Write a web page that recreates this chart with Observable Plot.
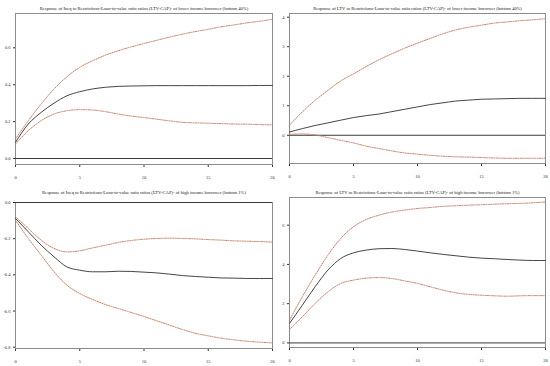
<!DOCTYPE html>
<html><head><meta charset="utf-8">
<script src="https://cdn.jsdelivr.net/npm/d3@7"></script>
<script src="https://cdn.jsdelivr.net/npm/@observablehq/plot@0.6"></script>
<style>
body{margin:0;background:#fff}
#wrap{position:relative;width:550px;height:366px;overflow:hidden;background:#fff}
#wrap svg{position:absolute}
</style>
</head><body><div id="wrap"></div>
<script>
// Horizon (periods)
const steps = [0,1,2,3,4,5,6,7,8,9,10,11,12,13,14,15,16,17,18,19,20];
const xTickValues = [0,5,10,15,20];

// Panel 1: Ineq, lower income (bottom 40%)
const ineqLowResp = [0.088,0.187,0.25,0.30,0.34,0.362,0.377,0.386,0.391,0.393,0.394,0.395,0.395,0.395,0.395,0.395,0.395,0.395,0.395,0.396,0.396];
const ineqLowUp   = [0.106,0.205,0.296,0.377,0.443,0.494,0.53,0.56,0.584,0.605,0.623,0.641,0.658,0.674,0.688,0.70,0.714,0.724,0.735,0.744,0.755];
const ineqLowLo   = [0.079,0.151,0.205,0.241,0.259,0.265,0.263,0.254,0.241,0.23,0.222,0.213,0.204,0.196,0.193,0.191,0.189,0.187,0.186,0.184,0.182];
const ineqLowTicks = [0, 0.2, 0.4, 0.6];
const ineqLowTickLabels = ["0.0","0.2","0.4","0.6"];

// Panel 2: LTV, lower income (bottom 40%)
const ltvLowResp = [0.11,0.225,0.33,0.42,0.51,0.60,0.665,0.72,0.80,0.88,0.96,1.04,1.10,1.16,1.19,1.22,1.23,1.24,1.25,1.25,1.25];
const ltvLowUp   = [0.34,0.79,1.18,1.52,1.84,2.08,2.33,2.56,2.76,2.95,3.12,3.28,3.44,3.57,3.66,3.73,3.80,3.84,3.88,3.91,3.95];
const ltvLowLo   = [0.03,0.045,0.01,-0.08,-0.17,-0.26,-0.37,-0.45,-0.53,-0.60,-0.64,-0.68,-0.71,-0.73,-0.74,-0.755,-0.77,-0.78,-0.78,-0.78,-0.78];
const ltvLowTicks = [0,1,2,3,4];
const ltvLowTickLabels = ["0","1","2","3","4"];

// Panel 3: Ineq, high income (bottom 1%)
const ineqHighResp = [-0.088,-0.162,-0.236,-0.30,-0.356,-0.374,-0.383,-0.383,-0.38,-0.381,-0.385,-0.389,-0.396,-0.404,-0.409,-0.413,-0.417,-0.418,-0.42,-0.42,-0.42];
const ineqHighUp   = [-0.079,-0.144,-0.208,-0.254,-0.273,-0.267,-0.251,-0.236,-0.221,-0.21,-0.203,-0.199,-0.197,-0.199,-0.201,-0.205,-0.208,-0.212,-0.214,-0.216,-0.219];
const ineqHighLo   = [-0.098,-0.199,-0.291,-0.383,-0.457,-0.503,-0.536,-0.564,-0.586,-0.608,-0.63,-0.654,-0.678,-0.702,-0.723,-0.737,-0.75,-0.759,-0.767,-0.772,-0.776];
const ineqHighTicks = [0,-0.2,-0.4,-0.6,-0.8];
const ineqHighTickLabels = ["0.0","-0.2","-0.4","-0.6","-0.8"];

// Panel 4: LTV, high income (bottom 1%)
const ltvHighResp = [0.99,1.92,2.86,3.71,4.30,4.59,4.73,4.80,4.81,4.76,4.68,4.59,4.51,4.44,4.37,4.32,4.29,4.25,4.22,4.20,4.20];
const ltvHighUp   = [1.16,2.35,3.45,4.47,5.32,5.92,6.29,6.51,6.67,6.77,6.85,6.90,6.96,6.99,7.02,7.04,7.07,7.09,7.11,7.14,7.18];
const ltvHighLo   = [0.68,1.33,2.01,2.60,3.03,3.20,3.30,3.33,3.28,3.16,3.03,2.86,2.69,2.55,2.47,2.43,2.40,2.38,2.40,2.41,2.41];
const ltvHighTicks = [0,2,4,6];
const ltvHighTickLabels = ["0","2","4","6"];

const titles = [
  "Response of Ineq to Restrictions-Loan-to-value ratio ratios (LTV-CAP)- of lower income borrower (bottom 40%)",
  "Response of LTV to Restrictions-Loan-to-value ratio ratios (LTV-CAP)- of lower income borrower (bottom 40%)",
  "Response of Ineq to Restrictions-Loan-to-value ratio ratios (LTV-CAP)- of high income borrower (bottom 1%)",
  "Response of LTV to Restrictions-Loan-to-value ratio ratios (LTV-CAP)- of high income borrower (bottom 1%)"
];

const panels = [
  {title: titles[0], resp: ineqLowResp, up: ineqLowUp, lo: ineqLowLo, ticks: ineqLowTicks, labels: ineqLowTickLabels,
   domain: [-0.0325, 0.786], left: 0, top: 0, mL: 15, mR: 3, mT: 13, mB: 19, titleDy: -7},
  {title: titles[1], resp: ltvLowResp, up: ltvLowUp, lo: ltvLowLo, ticks: ltvLowTicks, labels: ltvLowTickLabels,
   domain: [-0.957, 4.125], left: 275, top: 0, mL: 14, mR: 5, mT: 13, mB: 20, titleDy: -7},
  {title: titles[2], resp: ineqHighResp, up: ineqHighUp, lo: ineqHighLo, ticks: ineqHighTicks, labels: ineqHighTickLabels,
   domain: [-0.807, 0.0], left: 0, top: 183, mL: 15, mR: 3, mT: 19, mB: 18, titleDy: -12},
  {title: titles[3], resp: ltvHighResp, up: ltvHighUp, lo: ltvHighLo, ticks: ltvHighTicks, labels: ltvHighTickLabels,
   domain: [-0.234, 7.41], left: 275, top: 183, mL: 14, mR: 5, mT: 14, mB: 19, titleDy: -7}
];

const wrap = document.getElementById("wrap");
const bandColor = "#c4826a";
for (const p of panels) {
  const rows = steps.map((s, i) => ({s, resp: p.resp[i], up: p.up[i], lo: p.lo[i]}));
  const labelMap = new Map(p.ticks.map((t, i) => [t, p.labels[i]]));
  const chart = Plot.plot({
    width: 275, height: 183,
    marginLeft: p.mL, marginRight: p.mR, marginTop: p.mT, marginBottom: p.mB,
    style: {fontFamily: "'Liberation Serif', serif", fontSize: "4.5px", background: "transparent", color: "#333", overflow: "visible"},
    x: {domain: [0, 20], ticks: xTickValues, tickSize: 3, tickPadding: 8, tickFormat: d => String(d), label: null},
    y: {domain: p.domain, ticks: p.ticks, tickSize: 2, tickPadding: 3, tickFormat: d => labelMap.get(d), label: null},
    marks: [
      Plot.frame({stroke: "#8c8c8c", strokeWidth: 1}),
      Plot.ruleY([0], {stroke: "#3a3a3a", strokeWidth: 1}),
      Plot.line(rows, {x: "s", y: "up", stroke: bandColor, strokeWidth: 1, strokeDasharray: "1.2,1.2", curve: "monotone-x"}),
      Plot.line(rows, {x: "s", y: "lo", stroke: bandColor, strokeWidth: 1, strokeDasharray: "1.2,1.2", curve: "monotone-x"}),
      Plot.line(rows, {x: "s", y: "resp", stroke: "#454545", strokeWidth: 1, curve: "monotone-x"}),
      Plot.text([p.title], {text: d => d, frameAnchor: "top", dy: p.titleDy, fontSize: 4.6, fill: "#222"})
    ]
  });
  chart.style.left = p.left + "px";
  chart.style.top = p.top + "px";
  wrap.appendChild(chart);
}
</script>
</body></html>
